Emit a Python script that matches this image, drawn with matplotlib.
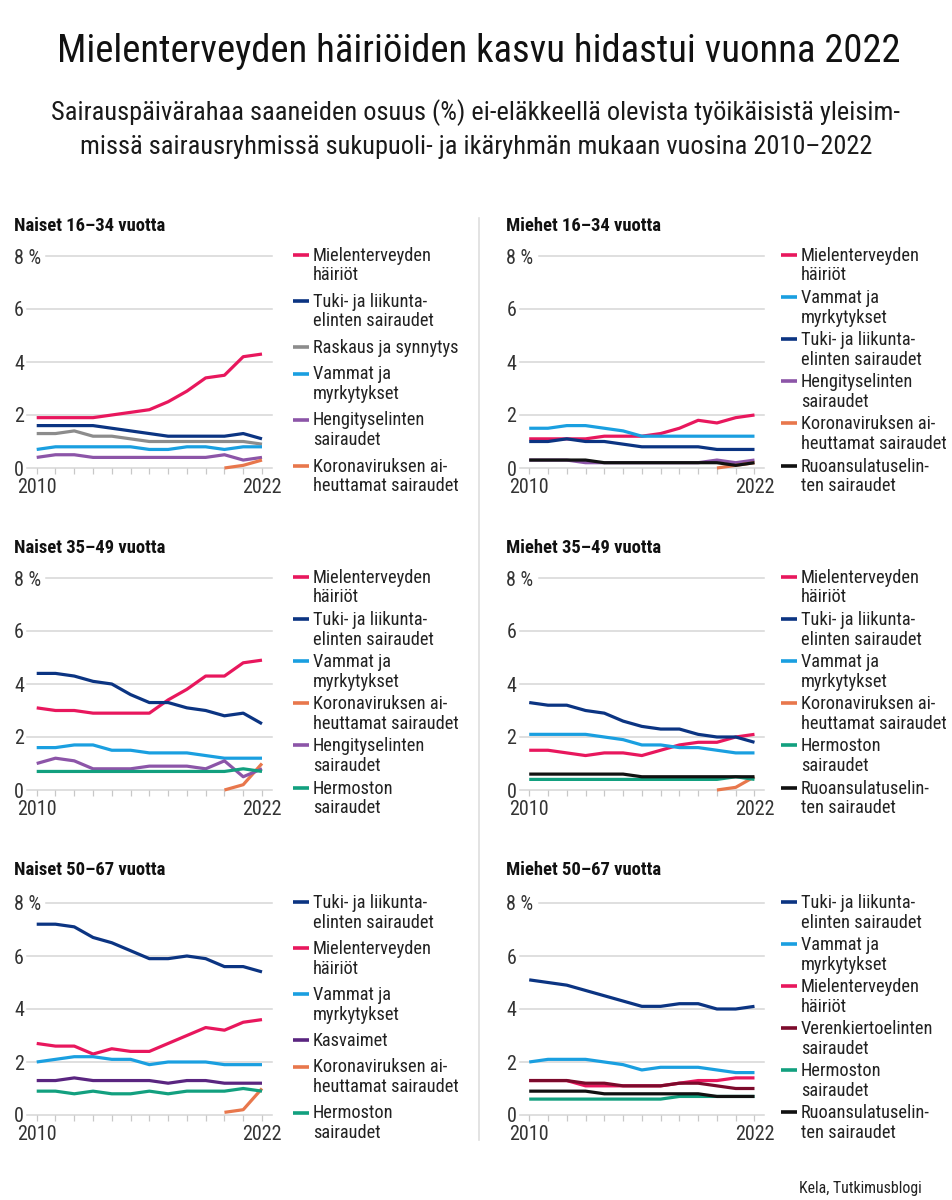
import matplotlib.pyplot as plt
from matplotlib.lines import Line2D

W, H = 953, 1200
plt.rcParams['font.family'] = ['Roboto Condensed', 'Roboto', 'DejaVu Sans']

# ***** Data *****
years = list(range(2010, 2023))
korona_years = [2020, 2021, 2022]

# Naiset 16-34
n1_mieli = [1.9, 1.9, 1.9, 1.9, 2.0, 2.1, 2.2, 2.5, 2.9, 3.4, 3.5, 4.2, 4.3]
n1_tuki = [1.6, 1.6, 1.6, 1.6, 1.5, 1.4, 1.3, 1.2, 1.2, 1.2, 1.2, 1.3, 1.1]
n1_raskaus = [1.3, 1.3, 1.4, 1.2, 1.2, 1.1, 1.0, 1.0, 1.0, 1.0, 1.0, 1.0, 0.9]
n1_vammat = [0.7, 0.8, 0.8, 0.8, 0.8, 0.8, 0.7, 0.7, 0.8, 0.8, 0.7, 0.8, 0.8]
n1_hengitys = [0.4, 0.5, 0.5, 0.4, 0.4, 0.4, 0.4, 0.4, 0.4, 0.4, 0.5, 0.3, 0.4]
n1_korona = [0.0, 0.1, 0.3]

# Miehet 16-34
m1_mieli = [1.1, 1.1, 1.1, 1.1, 1.2, 1.2, 1.2, 1.3, 1.5, 1.8, 1.7, 1.9, 2.0]
m1_vammat = [1.5, 1.5, 1.6, 1.6, 1.5, 1.4, 1.2, 1.2, 1.2, 1.2, 1.2, 1.2, 1.2]
m1_tuki = [1.0, 1.0, 1.1, 1.0, 1.0, 0.9, 0.8, 0.8, 0.8, 0.8, 0.7, 0.7, 0.7]
m1_hengitys = [0.3, 0.3, 0.3, 0.2, 0.2, 0.2, 0.2, 0.2, 0.2, 0.2, 0.3, 0.2, 0.3]
m1_korona = [0.0, 0.1, 0.2]
m1_ruoans = [0.3, 0.3, 0.3, 0.3, 0.2, 0.2, 0.2, 0.2, 0.2, 0.2, 0.2, 0.1, 0.2]

# Naiset 35-49
n2_mieli = [3.1, 3.0, 3.0, 2.9, 2.9, 2.9, 2.9, 3.4, 3.8, 4.3, 4.3, 4.8, 4.9]
n2_tuki = [4.4, 4.4, 4.3, 4.1, 4.0, 3.6, 3.3, 3.3, 3.1, 3.0, 2.8, 2.9, 2.5]
n2_vammat = [1.6, 1.6, 1.7, 1.7, 1.5, 1.5, 1.4, 1.4, 1.4, 1.3, 1.2, 1.2, 1.2]
n2_korona = [0.0, 0.2, 1.0]
n2_hengitys = [1.0, 1.2, 1.1, 0.8, 0.8, 0.8, 0.9, 0.9, 0.9, 0.8, 1.1, 0.5, 0.8]
n2_hermo = [0.7, 0.7, 0.7, 0.7, 0.7, 0.7, 0.7, 0.7, 0.7, 0.7, 0.7, 0.8, 0.7]

# Miehet 35-49
m2_mieli = [1.5, 1.5, 1.4, 1.3, 1.4, 1.4, 1.3, 1.5, 1.7, 1.8, 1.8, 2.0, 2.1]
m2_tuki = [3.3, 3.2, 3.2, 3.0, 2.9, 2.6, 2.4, 2.3, 2.3, 2.1, 2.0, 2.0, 1.8]
m2_vammat = [2.1, 2.1, 2.1, 2.1, 2.0, 1.9, 1.7, 1.7, 1.6, 1.6, 1.5, 1.4, 1.4]
m2_korona = [0.0, 0.1, 0.5]
m2_hermo = [0.4, 0.4, 0.4, 0.4, 0.4, 0.4, 0.4, 0.4, 0.4, 0.4, 0.4, 0.5, 0.4]
m2_ruoans = [0.6, 0.6, 0.6, 0.6, 0.6, 0.6, 0.5, 0.5, 0.5, 0.5, 0.5, 0.5, 0.5]

# Naiset 50-67
n3_tuki = [7.2, 7.2, 7.1, 6.7, 6.5, 6.2, 5.9, 5.9, 6.0, 5.9, 5.6, 5.6, 5.4]
n3_mieli = [2.7, 2.6, 2.6, 2.3, 2.5, 2.4, 2.4, 2.7, 3.0, 3.3, 3.2, 3.5, 3.6]
n3_vammat = [2.0, 2.1, 2.2, 2.2, 2.1, 2.1, 1.9, 2.0, 2.0, 2.0, 1.9, 1.9, 1.9]
n3_kasvaimet = [1.3, 1.3, 1.4, 1.3, 1.3, 1.3, 1.3, 1.2, 1.3, 1.3, 1.2, 1.2, 1.2]
n3_korona = [0.1, 0.2, 1.0]
n3_hermo = [0.9, 0.9, 0.8, 0.9, 0.8, 0.8, 0.9, 0.8, 0.9, 0.9, 0.9, 1.0, 0.9]

# Miehet 50-67
m3_tuki = [5.1, 5.0, 4.9, 4.7, 4.5, 4.3, 4.1, 4.1, 4.2, 4.2, 4.0, 4.0, 4.1]
m3_vammat = [2.0, 2.1, 2.1, 2.1, 2.0, 1.9, 1.7, 1.8, 1.8, 1.8, 1.7, 1.6, 1.6]
m3_mieli = [1.3, 1.3, 1.3, 1.1, 1.1, 1.1, 1.1, 1.1, 1.2, 1.3, 1.3, 1.4, 1.4]
m3_verenk = [1.3, 1.3, 1.3, 1.2, 1.2, 1.1, 1.1, 1.1, 1.2, 1.2, 1.1, 1.0, 1.0]
m3_hermo = [0.6, 0.6, 0.6, 0.6, 0.6, 0.6, 0.6, 0.6, 0.7, 0.7, 0.7, 0.7, 0.7]
m3_ruoans = [0.9, 0.9, 0.9, 0.9, 0.8, 0.8, 0.8, 0.8, 0.8, 0.8, 0.7, 0.7, 0.7]

# ***** Labels / colours *****
MIELI = ('Mielenterveyden\nhäiriöt', '#e8175d')
TUKI = ('Tuki- ja liikunta-\nelinten sairaudet', '#0b3482')
VAMMAT = ('Vammat ja\nmyrkytykset', '#1a9fe0')
RASKAUS = ('Raskaus ja synnytys', '#8c8c8c')
HENGITYS = ('Hengityselinten\nsairaudet', '#8c55a8')
KORONA = ('Koronaviruksen ai-\nheuttamat sairaudet', '#e8774c')
HERMO = ('Hermoston\nsairaudet', '#12a07f')
RUOANS = ('Ruoansulatuselin-\nten sairaudet', '#111111')
KASVAIMET = ('Kasvaimet', '#5a2580')
VERENK = ('Verenkiertoelinten\nsairaudet', '#7c0a2b')

panels = [
    ('Naiset 16–34 vuotta', 0, 0, [(MIELI, n1_mieli), (TUKI, n1_tuki), (RASKAUS, n1_raskaus),
                                   (VAMMAT, n1_vammat), (HENGITYS, n1_hengitys), (KORONA, n1_korona)]),
    ('Miehet 16–34 vuotta', 0, 1, [(MIELI, m1_mieli), (VAMMAT, m1_vammat), (TUKI, m1_tuki),
                                   (HENGITYS, m1_hengitys), (KORONA, m1_korona), (RUOANS, m1_ruoans)]),
    ('Naiset 35–49 vuotta', 1, 0, [(MIELI, n2_mieli), (TUKI, n2_tuki), (VAMMAT, n2_vammat),
                                   (KORONA, n2_korona), (HENGITYS, n2_hengitys), (HERMO, n2_hermo)]),
    ('Miehet 35–49 vuotta', 1, 1, [(MIELI, m2_mieli), (TUKI, m2_tuki), (VAMMAT, m2_vammat),
                                   (KORONA, m2_korona), (HERMO, m2_hermo), (RUOANS, m2_ruoans)]),
    ('Naiset 50–67 vuotta', 2, 0, [(TUKI, n3_tuki), (MIELI, n3_mieli), (VAMMAT, n3_vammat),
                                   (KASVAIMET, n3_kasvaimet), (KORONA, n3_korona), (HERMO, n3_hermo)]),
    ('Miehet 50–67 vuotta', 2, 1, [(TUKI, m3_tuki), (VAMMAT, m3_vammat), (MIELI, m3_mieli),
                                   (VERENK, m3_verenk), (HERMO, m3_hermo), (RUOANS, m3_ruoans)]),
]

TITLE = 'Mielenterveyden häiriöiden kasvu hidastui vuonna 2022'
SUB1 = 'Sairauspäivärahaa saaneiden osuus (%) ei-eläkkeellä olevista työikäisistä yleisim-'
SUB2 = 'missä sairausryhmissä sukupuoli- ja ikäryhmän mukaan vuosina 2010–2022'
SOURCE = 'Kela, Tutkimusblogi'

# ***** Layout (pixels) *****
row_top = [256, 578, 903]
row_zero = [468, 790, 1115]
row_title = [226, 548, 870]
col_ax = [27, 519.5]
col_title = [14, 506.5]
col_handle = [293, 781]
col_text = [313, 801]
AX_W = 245
LINE_H = 19.5
LEG_SPAN = 230


def fx(px):
    return px / W


def fy(py):
    return 1 - py / H


fig = plt.figure(figsize=(W / 100, H / 100), dpi=100)
renderer = fig.canvas.get_renderer()


def size_for(text, target_px, maxsize=None, **kw):
    # font size that gives the text the width it has in the reference
    t = fig.text(0, 0, text, fontsize=10, **kw)
    w = t.get_window_extent(renderer).width
    t.remove()
    s = 10 * target_px / w
    return min(s, maxsize) if maxsize else s


fs_title = size_for(TITLE, 838, 28)
fs_sub = size_for(SUB1, 894, 19)
fs_leg = size_for('Mielenterveyden', 118, 14.5)
fs_tick = size_for('8 %', 27, 14.5)
fs_ptitle = size_for('Naiset 16–34 vuotta', 152, 14.5, fontweight='bold')
fs_src = size_for(SOURCE, 123, 13)

fig.text(fx(479), fy(52), TITLE, ha='center', va='center', fontsize=fs_title, color='#111111')
fig.text(fx(476), fy(113), SUB1, ha='center', va='center', fontsize=fs_sub, color='#1a1a1a')
fig.text(fx(476), fy(147), SUB2, ha='center', va='center', fontsize=fs_sub, color='#1a1a1a')

# divider
fig.add_artist(Line2D([fx(478.5), fx(478.5)], [fy(218), fy(1140)], color='#dedede', lw=1.2))

for title, r, c, series in panels:
    top, zero = row_top[r], row_zero[r]
    ax = fig.add_axes([fx(col_ax[c]), fy(zero), AX_W / W, (zero - top) / H])
    ax.set_xlim(2009.483, 2022.533)
    ax.set_ylim(0, 8)
    for v in [0, 2, 4, 6, 8]:
        ax.axhline(v, xmin=0.078 if v == 8 else 0, color='#d6d6d6', lw=1.1, zorder=0, clip_on=False)
    for (label, color), vals in series:
        xs = years if len(vals) == len(years) else korona_years
        ax.plot(xs, vals, color=color, lw=2.3, solid_joinstyle='round', solid_capstyle='butt',
                clip_on=False)
    ax.set_xticks(years)
    ax.set_xticklabels(['2010'] + [''] * 11 + ['2022'])
    ax.tick_params(axis='x', length=4.5, width=0.9, color='#c8c8c8', pad=3,
                   labelsize=fs_tick, labelcolor='#333333')
    ax.set_yticks([0, 2, 4, 6, 8])
    ax.set_yticklabels(['0', '2', '4', '6', '8 %'])
    ax.tick_params(axis='y', length=0, pad=9.4, labelsize=fs_tick, labelcolor='#333333')
    for lab in ax.get_yticklabels():
        lab.set_horizontalalignment('left')
    for s in ax.spines.values():
        s.set_visible(False)
    ax.patch.set_alpha(0)

    fig.text(fx(col_title[c]), fy(row_title[r]), title, ha='left', va='center',
             fontsize=fs_ptitle, fontweight='bold', color='#111111')

    # legend
    n_lines = sum(len(lab.split('\n')) for (lab, col), v in series)
    k = len(series)
    gap = (LEG_SPAN - LINE_H * (n_lines - 1)) / (k - 1)
    y = top - 1
    for (label, color), vals in series:
        fig.add_artist(Line2D([fx(col_handle[c]), fx(col_handle[c] + 16)], [fy(y), fy(y)],
                              color=color, lw=2.6, solid_capstyle='butt'))
        for line in label.split('\n'):
            fig.text(fx(col_text[c]), fy(y + 6), line, ha='left', va='baseline',
                     fontsize=fs_leg, color='#222222')
            y += LINE_H
        y += gap

fig.text(fx(922), fy(1188), SOURCE, ha='right', va='center', fontsize=fs_src, color='#222222')

fig.savefig('out.png', dpi=100, facecolor='white')
